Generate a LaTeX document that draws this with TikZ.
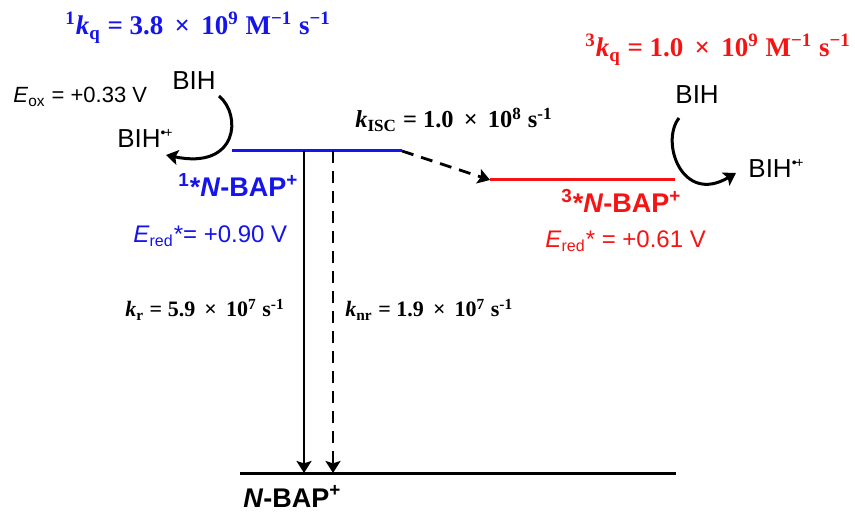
\documentclass[tikz,border=0pt]{standalone}
\usepackage{fontspec}
\setmainfont{Liberation Sans}
\newfontfamily\tmsfont{Liberation Serif}
\usetikzlibrary{arrows.meta, positioning}
\definecolor{sBlue}{RGB}{20, 20, 235}
\definecolor{tRed}{RGB}{245, 20, 20}
\newcommand{\radcat}{\raisebox{0.75ex}{\fontsize{7}{7}\selectfont •\kern-0.6pt+}}

\begin{document}
\begin{tikzpicture}[x=0.5pt, y=-0.5pt,
    level/.style={line width=1.5pt},
    tip/.style={-{Stealth[length=6pt, width=7.5pt, inset=1.2pt]}},
    decay/.style={tip, line width=1.4pt},
    dashline/.style={dash pattern=on 6pt off 4pt},
    rate/.style={anchor=base west, inner sep=0pt, font=\tmsfont\bfseries\fontsize{11}{13}\selectfont},
    bigrate/.style={rate, font=\tmsfont\bfseries\fontsize{13.5}{15}\selectfont},
    txt/.style={anchor=base west, inner sep=0pt, font=\fontsize{11}{13}\selectfont},
    redox/.style={txt, font=\fontsize{12}{14}\selectfont},
    donor/.style={txt, font=\fontsize{13}{15}\selectfont},
    species/.style={anchor=base west, inner sep=0pt, font=\bfseries\fontsize{13.5}{15}\selectfont}]
  \useasboundingbox (0,0) rectangle (855,512);

  % levels
  \coordinate (s1a) at (232,151);
  \coordinate (s1b) at (402,151);
  \coordinate (t1a) at (490,180);
  \coordinate (t1b) at (675,180);
  \coordinate (g0a) at (240,473);
  \coordinate (g0b) at (676,473);
  \draw[level, sBlue] (s1a) -- (s1b);
  \draw[level, tRed] (t1a) -- (t1b);
  \draw[level] (g0a) -- (g0b);

  % decay arrows
  \coordinate (kr1) at (304,151);
  \coordinate (kr0) at (304,473);
  \coordinate (knr1) at (333,151);
  \coordinate (knr0) at (333,473);
  \draw[decay] (kr1) -- (kr0);
  \draw[decay, dashline] (knr1) -- (knr0);
  \draw[decay, dashline] (s1b) -- (t1a);

  % rate constants
  \node[bigrate, sBlue] (kqS) at (65,35)
    {\textsuperscript{1}\textit{k}\textsubscript{q} = 3.8 \,×\, 10\textsuperscript{9} M\textsuperscript{−1} s\textsuperscript{−1}};
  \node[bigrate, tRed] (kqT) at (585,57)
    {\textsuperscript{3}\textit{k}\textsubscript{q} = 1.0 \,×\, 10\textsuperscript{9} M\textsuperscript{−1} s\textsuperscript{−1}};
  \node[rate, font=\tmsfont\bfseries\fontsize{12.2}{14}\selectfont] (kisc) at (355,128)
    {\textit{k}\textsubscript{ISC} = 1.0 \,×\, 10\textsuperscript{8} s\textsuperscript{-1}};
  \node[rate] (kr) at (125,317)
    {\textit{k}\textsubscript{r} = 5.9 \,×\, 10\textsuperscript{7} s\textsuperscript{-1}};
  \node[rate] (knr) at (345,317)
    {\textit{k}\textsubscript{nr} = 1.9 \,×\, 10\textsuperscript{7} s\textsuperscript{-1}};

  % potentials
  \node[txt] (Eox) at (13,103) {\textit{E}\textsubscript{ox} = +0.33 V};
  \node[redox, sBlue] (EredS) at (133,243) {\textit{E}\textsubscript{red}*= +0.90 V};
  \node[redox, tRed] (EredT) at (545,248) {\textit{E}\textsubscript{red}* = +0.61 V};

  % species
  \node[species, sBlue] (nbapS) at (178,197) {\textsuperscript{1}*\textit{N}-BAP\textsuperscript{+}};
  \node[species, tRed] (nbapT) at (561,213) {\textsuperscript{3}*\textit{N}-BAP\textsuperscript{+}};
  \node[species, black] (nbap) at (243,507) {\textit{N}-BAP\textsuperscript{+}};

  % quenching
  \node[donor] (bihL) at (172,90) {BIH};
  \node[donor] (bihLox) at (117,148) {BIH\radcat};
  \node[donor] (bihR) at (675,104) {BIH};
  \node[donor] (bihRox) at (748,178) {BIH\radcat};
  \coordinate (qLa) at (219,96);
  \coordinate (qLb) at (166,155);
  \coordinate (qRa) at (679,118);
  \coordinate (qRb) at (736,173);
  \draw[tip, line width=1.5pt] (qLa) .. controls (242,115) and (238,170) .. (qLb);
  \draw[tip, line width=1.5pt] (qRa) .. controls (660,142) and (682,205) .. (qRb);
\end{tikzpicture}
\end{document}
